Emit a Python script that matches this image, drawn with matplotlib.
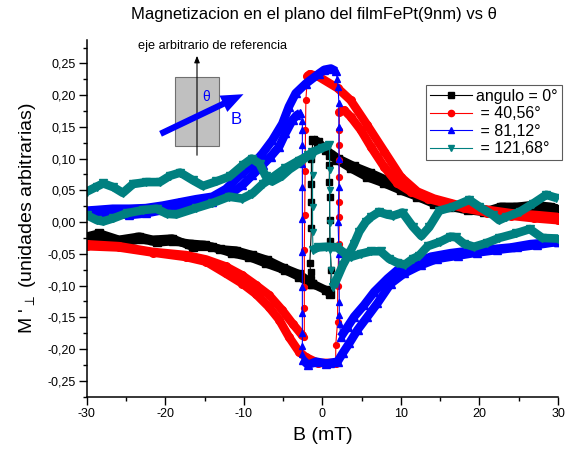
import numpy as np
import matplotlib
matplotlib.use("Agg")
import matplotlib.pyplot as plt
from matplotlib.lines import Line2D
from matplotlib.patches import Rectangle, FancyArrowPatch
from matplotlib.ticker import MultipleLocator, FuncFormatter

plt.rcParams['font.family'] = ['Liberation Sans', 'DejaVu Sans']

# ---------------- data (B in mT, M' in arbitrary units) ----------------
# angulo = 0 deg (black)
black_a_B = [-30, -28.4, -25.9, -23.3, -21.6, -19.1, -16.5, -14.0, -11.5, -9.3, -7.2, -4.7, -3.0, -1.3, 0.4, 1.0]
black_a_M = [-0.023, -0.018, -0.028, -0.023, -0.028, -0.026, -0.039, -0.039, -0.049, -0.055, -0.065, -0.076, -0.086, -0.097, -0.107, -0.113]
black_j1_B = [1.13, 0.95, 0.92, 0.92, 0.88, 0.9]
black_j1_M = [-0.076, -0.03, 0.003, 0.04, 0.063, 0.09]
black_b_B = [1.0, 1.9, 3.6, 5.7, 7.9, 10.0, 12.1, 14.2, 16.3, 18.5, 20.6, 22.7, 24.8, 26.9, 29.0, 30.0]
black_b_M = [0.105, 0.098, 0.085, 0.071, 0.061, 0.050, 0.040, 0.029, 0.024, 0.019, 0.016, 0.024, 0.024, 0.027, 0.024, 0.021]
black_c_B = [30, 28, 26, 24, 22, 20, 18, 16, 14, 12, 10, 8, 6, 4, 2, 0.5, -0.6, -1.2]
black_c_M = [0.013, 0.018, 0.020, 0.015, 0.018, 0.020, 0.022, 0.028, 0.035, 0.045, 0.056, 0.067, 0.078, 0.088, 0.100, 0.113, 0.127, 0.130]
black_j2_B = [-1.4, -1.4, -1.4, -1.4, -1.6, -1.5, -1.5]
black_j2_M = [0.10, 0.06, 0.032, -0.010, -0.065, -0.078, -0.089]
black_d_B = [-1.3, -3, -5, -7, -9, -11, -13, -15, -17, -19, -21, -23, -25, -27, -28.5, -30]
black_d_M = [-0.097, -0.082, -0.072, -0.060, -0.052, -0.045, -0.043, -0.036, -0.034, -0.030, -0.032, -0.027, -0.031, -0.026, -0.028, -0.030]

# = 40,56 deg (red)
red_a_B = [-30, -25.9, -21.6, -17.4, -14.8, -12.3, -10.2, -8.5, -6.8, -5.1, -3.8, -2.6]
red_a_M = [-0.035, -0.038, -0.047, -0.052, -0.059, -0.070, -0.084, -0.099, -0.115, -0.139, -0.160, -0.178]
red_j1_B = [-2.3, -2.3, -2.3, -2.3, -2.25, -2.2, -2.15, -2.1]
red_j1_M = [-0.181, -0.136, -0.102, -0.044, 0.011, 0.080, 0.145, 0.193]
red_b_B = [-1.9, -1.6, -0.6, 1.95, 3.6, 5.7, 7.9, 10.0, 12.1, 14.2, 17.2, 20.6, 24.0, 27.3, 30.0]
red_b_M = [0.230, 0.233, 0.230, 0.211, 0.192, 0.153, 0.111, 0.071, 0.048, 0.037, 0.027, 0.020, 0.014, 0.011, 0.008]
red_c_B = [30, 27, 24, 21, 18, 15.5, 13.4, 11.25, 9.56, 7.86, 6.16, 4.9, 3.6, 2.8, 2.15]
red_c_M = [0.003, 0.006, 0.010, 0.015, 0.022, 0.030, 0.037, 0.048, 0.061, 0.087, 0.119, 0.145, 0.166, 0.176, 0.174]
red_j2_B = [2.15, 2.15, 2.15, 2.15, 2.15, 2.15, 2.1, 1.95, 1.93, 1.7]
red_j2_M = [0.145, 0.121, 0.098, 0.071, 0.032, 0.008, -0.034, -0.100, -0.157, -0.194]
red_d_B = [1.7, 0.5, -0.6, -2.1, -3.0, -4.26, -5.5, -6.8, -8.5, -10.2, -12.3, -14.8, -17.4, -21.6, -25.9, -30]
red_d_M = [-0.222, -0.222, -0.222, -0.213, -0.204, -0.181, -0.154, -0.134, -0.113, -0.097, -0.081, -0.0625, -0.055, -0.048, -0.040, -0.038]

# = 81,12 deg (blue)
blue_a_B = [-30, -28.8, -26.7, -24.6, -22.5, -20.3, -18.2, -16.1, -14.0, -12.3, -10.2, -8.9, -7.64, -6.37, -5.1, -4.26, -3.4, -2.13, -0.44, 0.24, 1.08, 1.7]
blue_a_M = [0.018, 0.019, 0.021, 0.021, 0.022, 0.026, 0.031, 0.036, 0.040, 0.052, 0.077, 0.090, 0.108, 0.129, 0.155, 0.182, 0.203, 0.218, 0.234, 0.240, 0.242, 0.238]
blue_j1_B = [1.9, 2.0, 2.1, 2.1, 2.1, 2.1, 2.0, 2.1, 2.15, 2.15, 2.2]
blue_j1_M = [0.226, 0.213, 0.187, 0.150, 0.100, 0.056, 0.0, -0.050, -0.126, -0.146, -0.160]
blue_b_B = [2.35, 3.2, 4.05, 5.3, 6.6, 8.3, 9.56, 11.7, 13.8, 16.3, 18.9, 21.4, 24.0, 26.5, 30.0]
blue_b_M = [-0.181, -0.165, -0.149, -0.131, -0.110, -0.089, -0.0756, -0.065, -0.0546, -0.049, -0.045, -0.043, -0.040, -0.0347, -0.031]
blue_c_B = [30, 27.3, 24.8, 22.2, 19.7, 17.2, 14.6, 12.5, 10.4, 8.7, 7.0, 5.74, 4.47, 3.42, 2.57, 1.93, 1.0, 0.5, -0.8, -1.84, -2.5]
blue_c_M = [-0.031, -0.036, -0.040, -0.044, -0.048, -0.053, -0.058, -0.068, -0.081, -0.097, -0.128, -0.149, -0.170, -0.191, -0.207, -0.220, -0.222, -0.223, -0.220, -0.225, -0.217]
blue_j2_B = [-2.55, -2.55, -2.55, -2.55, -2.55, -2.55, -2.55, -2.55, -2.55, -2.55, -2.55, -2.55]
blue_j2_M = [-0.208, -0.196, -0.175, -0.144, -0.102, -0.047, 0.005, 0.056, 0.092, 0.121, 0.145, 0.160]
blue_d_B = [-2.8, -3.3, -3.8, -4.7, -5.5, -6.6, -7.6, -8.9, -10.2, -11.9, -14.0, -16.1, -18.2, -20.3, -22.5, -24.6, -26.7, -28.8, -30]
blue_d_M = [0.172, 0.168, 0.161, 0.140, 0.119, 0.103, 0.090, 0.074, 0.058, 0.0425, 0.032, 0.027, 0.024, 0.019, 0.0137, 0.011, 0.014, 0.011, 0.013]

# = 121,68 deg (teal)
teal_a_B = [-30, -28.7, -27.9, -26.6, -25.4, -24.1, -22.4, -20.7, -19.4, -18.1, -16.5, -15.2, -13.5, -11.8, -10.1, -9.0, -8.0, -7.2, -6.4, -5.2, -4.2, -3.0, -1.3, 0.0, 0.9]
teal_a_M = [0.048, 0.056, 0.061, 0.055, 0.046, 0.060, 0.063, 0.063, 0.073, 0.078, 0.066, 0.057, 0.064, 0.072, 0.090, 0.100, 0.092, 0.072, 0.064, 0.072, 0.083, 0.093, 0.110, 0.117, 0.121]
teal_j1_B = [0.92, 0.92, 0.95, 1.0, 1.1, 1.3]
teal_j1_M = [0.082, 0.050, -0.002, -0.044, -0.076, -0.095]
teal_b_B = [1.4, 2.0, 2.6, 3.3, 4.0, 4.7, 5.5, 6.2, 7.2, 8.2, 9.0, 10.2, 11.5, 12.6, 13.6, 14.9, 16.6, 18.7, 20.0, 21.7, 22.5, 23.4, 25.1, 26.8, 28.5, 29.8]
teal_b_M = [-0.102, -0.085, -0.068, -0.052, -0.035, -0.015, 0.0, 0.008, 0.016, 0.012, 0.010, 0.015, -0.007, -0.022, -0.008, 0.018, 0.024, 0.035, 0.024, 0.011, 0.003, 0.008, 0.016, 0.029, 0.043, 0.038]
teal_c_B = [30, 28.0, 26.4, 24.6, 22.5, 20.9, 19.3, 18.0, 17.0, 16.3, 15.0, 13.4, 12.3, 11.5, 10.5, 9.5, 8.5, 7.4, 6.2, 4.9, 3.6, 2.8, 1.9, 0.5, -0.6, -1.2]
teal_c_M = [-0.026, -0.025, -0.011, -0.018, -0.025, -0.033, -0.039, -0.034, -0.024, -0.023, -0.031, -0.038, -0.053, -0.058, -0.067, -0.064, -0.058, -0.046, -0.046, -0.050, -0.055, -0.049, -0.040, -0.039, -0.040, -0.044]
teal_j2_B = [-1.25, -1.25, -1.25]
teal_j2_M = [-0.015, 0.024, 0.074]
teal_d_B = [-1.2, -1.8, -3.0, -4.7, -6.4, -7.6, -8.9, -10.2, -11.9, -14.0, -16.1, -18.6, -19.8, -21.1, -22.8, -24.9, -26.6, -27.9, -28.7, -30]
teal_d_M = [0.105, 0.105, 0.097, 0.085, 0.070, 0.060, 0.045, 0.037, 0.040, 0.030, 0.022, 0.012, 0.013, 0.021, 0.019, 0.014, 0.006, 0.001, 0.003, 0.011]

labels = ["angulo = 0\u00b0", " = 40,56\u00b0", " = 81,12\u00b0", " = 121,68\u00b0"]

series = [
    ("#000000", "s", [(black_a_B, black_a_M), (black_b_B, black_b_M), (black_c_B, black_c_M), (black_d_B, black_d_M)],
     [(black_j1_B, black_j1_M), (black_j2_B, black_j2_M)]),
    ("#ff0000", "o", [(red_a_B, red_a_M), (red_b_B, red_b_M), (red_c_B, red_c_M), (red_d_B, red_d_M)],
     [(red_j1_B, red_j1_M), (red_j2_B, red_j2_M)]),
    ("#0000ff", "^", [(blue_a_B, blue_a_M), (blue_b_B, blue_b_M), (blue_c_B, blue_c_M), (blue_d_B, blue_d_M)],
     [(blue_j1_B, blue_j1_M), (blue_j2_B, blue_j2_M)]),
    ("#008080", "v", [(teal_a_B, teal_a_M), (teal_b_B, teal_b_M), (teal_c_B, teal_c_M), (teal_d_B, teal_d_M)],
     [(teal_j1_B, teal_j1_M), (teal_j2_B, teal_j2_M)]),
]

# ---------------- figure ----------------
fig = plt.figure(figsize=(5.65, 4.57), dpi=100)
ax = fig.add_axes([0.1535, 0.1313, 0.8342, 0.7812])

for color, mk, bands, jumps in series:
    (aB, aM), (bB, bM), (cB, cM), (dB, dM) = bands
    (j1B, j1M), (j2B, j2M) = jumps
    # thin connecting jump lines with markers
    ax.plot([aB[-1]] + list(j1B) + [bB[0]], [aM[-1]] + list(j1M) + [bM[0]],
            color=color, lw=0.8, marker=mk, ms=4.2, zorder=2)
    ax.plot([cB[-1]] + list(j2B) + [dB[0]], [cM[-1]] + list(j2M) + [dM[0]],
            color=color, lw=0.8, marker=mk, ms=4.2, zorder=2)
    # thick bands of dense markers
    for bb, mm in bands:
        ax.plot(bb, mm, color=color, lw=6.2, solid_capstyle='butt', solid_joinstyle='round',
                marker=mk, ms=5.5, zorder=2)

ax.set_xlim(-30, 30)
ax.set_ylim(-0.2757, 0.287)
ax.spines['top'].set_visible(False)
ax.spines['right'].set_visible(False)
for s in ('left', 'bottom'):
    ax.spines[s].set_linewidth(1.1)
ax.xaxis.set_major_locator(MultipleLocator(10))
ax.xaxis.set_minor_locator(MultipleLocator(5))
ax.yaxis.set_major_locator(MultipleLocator(0.05))
ax.yaxis.set_minor_locator(MultipleLocator(0.025))
ax.yaxis.set_major_formatter(FuncFormatter(lambda v, p: ("%.2f" % v).replace('.', ',').replace('-0,00', '0,00')))
ax.xaxis.set_major_formatter(FuncFormatter(lambda v, p: "%d" % round(v)))
ax.tick_params(which='major', direction='out', length=5.5, width=1.0, labelsize=9, pad=2.5)
ax.tick_params(which='minor', direction='out', length=3, width=1.0)

ax.set_xlabel("B (mT)", fontsize=14, labelpad=5)
ax.set_ylabel("M '${}_{\\perp}$ (unidades arbitrarias)", fontsize=14, labelpad=7)
fig.text(314 / 565, 1 - 15 / 457, "Magnetizacion en el plano del filmFePt(9nm) vs \u03b8",
         ha='center', va='center', fontsize=12)

# legend
handles = [Line2D([], [], color=c, marker=m, lw=0.8, ms=4.5) for c, m, _, _ in series]
leg = fig.legend(handles, labels, loc='upper right', bbox_to_anchor=(562 / 565, 1 - 85 / 457),
                 bbox_transform=fig.transFigure, fontsize=11.5, frameon=True, fancybox=False,
                 borderaxespad=0, handlelength=2.6, handletextpad=0.3, labelspacing=0.15,
                 borderpad=0.25)
leg.get_frame().set_edgecolor('#333333')
leg.get_frame().set_linewidth(0.8)

# inset sketch
W, H = 565.0, 457.0
def fp(x, y):
    return (x / W, 1 - y / H)

rect = Rectangle(fp(175, 146), 44 / W, 69 / H, transform=fig.transFigure,
                 facecolor='#c0c0c0', edgecolor='#707070', lw=0.8, zorder=5)
fig.add_artist(rect)
fig.add_artist(FancyArrowPatch(fp(197, 158), fp(197, 53), transform=fig.transFigure,
                               arrowstyle='-|>,head_length=4,head_width=1.6', lw=0.8,
                               color='black', mutation_scale=1, zorder=6))
fig.add_artist(FancyArrowPatch(fp(158, 135), fp(246, 93), transform=fig.transFigure,
                               arrowstyle='simple,head_length=1.6,head_width=1.3,tail_width=0.45',
                               mutation_scale=10, color='#0000ff', lw=0, zorder=7))
fig.text(212 / W, 1 - 46 / H, "eje arbitrario de referencia", ha='center', va='center', fontsize=9.2)
fig.text(206 / W, 1 - 97 / H, "\u03b8", ha='center', va='center', fontsize=10, color='#0000ff', zorder=8)
fig.text(236 / W, 1 - 119 / H, "B", ha='center', va='center', fontsize=12, color='#0000ff', zorder=8)

fig.savefig("out.png", dpi=100)
